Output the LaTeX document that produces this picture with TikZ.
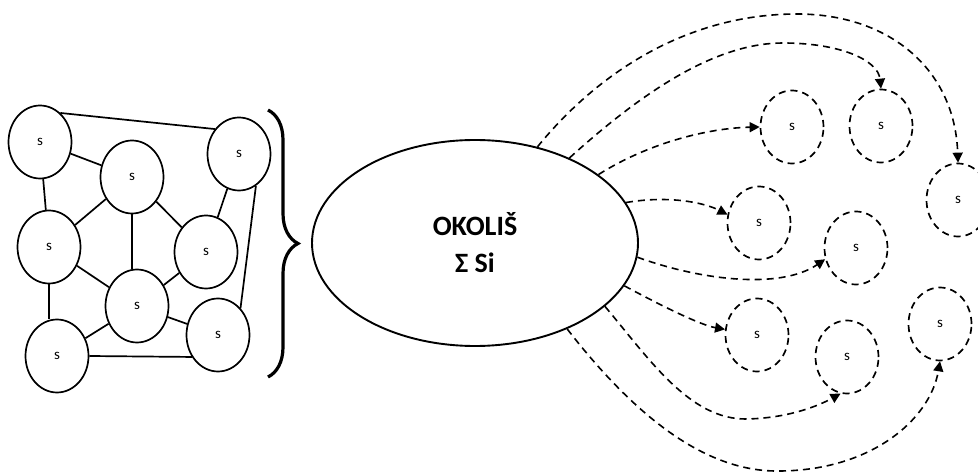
\documentclass[tikz,border=0pt]{standalone}
\usepackage{fontspec}
\setmainfont{Carlito}
\usetikzlibrary{arrows.meta, decorations.pathreplacing, shapes.geometric}
\tikzset{
    subsys/.style={draw, ellipse, line width=1.7pt, minimum width=63pt,
        minimum height=73pt, inner sep=0pt, font=\fontsize{15}{18}\selectfont},
    loose subsys/.style={subsys, dash pattern=on 7pt off 5pt},
    environ/.style={draw, ellipse, line width=1.9pt, minimum width=326pt,
        minimum height=206pt, inner sep=0pt, align=center,
        font=\fontsize{28}{37}\selectfont\bfseries},
    link/.style={line width=1.7pt},
    flow/.style={line width=1.6pt, dash pattern=on 7pt off 5pt,
        -{Triangle[length=10pt,width=10pt]}}
}

\begin{document}
\begin{tikzpicture}[x=1pt, y=-1pt]
\useasboundingbox (0,0) rectangle (978,473);

% Sistem: podsustavi povezani u cjelinu
\node[subsys] (s1) at (40,142) {s};
\node[subsys] (s2) at (132,177) {s};
\node[subsys] (s3) at (239,154) {s};
\node[subsys] (s4) at (49,247) {s};
\node[subsys] (s5) at (206,252) {s};
\node[subsys] (s6) at (137,306) {s};
\node[subsys] (s7) at (57,356) {s};
\node[subsys] (s8) at (218,335) {s};

\draw[link] (s1.55) -- (s3.134);
\draw[link] (s1) -- (s2);
\draw[link] (s1) -- (s4);
\draw[link] (s2) -- (s4);
\draw[link] (s2.south) -- (s2.south |- s6.north);
\draw[link] (s2) -- (s5);
\draw[link] (s3) -- (s5);
\draw[link] (s3.-62) -- (s8.50);
\draw[link] (s4) -- (s6);
\draw[link] (s4.south) -- (s4.south |- s7.north);
\draw[link] (s5) -- (s6);
\draw[link] (s6) -- (s7);
\draw[link] (s6) -- (s8);
\draw[link] (s7.east) -- (s8.-140);

% Zagrada
\draw[line width=3.2pt, decorate, decoration={brace, amplitude=30pt}]
    (268,110) -- (268,377);

% Okoliš
\node[environ] (env) at (475,243) {OKOLIŠ\\Σ Si};

% Slobodni podsustavi
\node[loose subsys] (d1) at (792,127) {s};
\node[loose subsys] (d2) at (881,126) {s};
\node[loose subsys] (d3) at (958,200) {s};
\node[loose subsys] (d4) at (759,223) {s};
\node[loose subsys] (d5) at (856,248) {s};
\node[loose subsys] (d6) at (757,335) {s};
\node[loose subsys] (d7) at (847,357) {s};
\node[loose subsys] (d8) at (940,324) {s};

% Tokovi iz okoliša
\draw[flow] (env.57) .. controls (600,70) and (690,14) .. (797,14)
    .. controls (890,14) and (955,70) .. (d3.north);
\draw[flow] (env.42) .. controls (650,85) and (720,43) .. (783,43)
    .. controls (840,43) and (878,60) .. (d2.north);
\draw[flow] (env.29) .. controls (650,142) and (710,128) .. (d1.west);
\draw[flow] (env.15) .. controls (670,195) and (705,203) .. (d4.165);
\draw[flow] (env.-5) .. controls (700,280) and (780,290) .. (d5.200);
\draw[flow] (env.-16) .. controls (660,305) and (700,325) .. (d6.170);
\draw[flow] (env.-26) .. controls (650,360) and (690,420) .. (747,419)
    .. controls (790,418) and (820,405) .. (d7.-100);
\draw[flow] (env.-43) .. controls (630,410) and (700,470) .. (775,471)
    .. controls (870,472) and (930,420) .. (d8.south);

\end{tikzpicture}
\end{document}
